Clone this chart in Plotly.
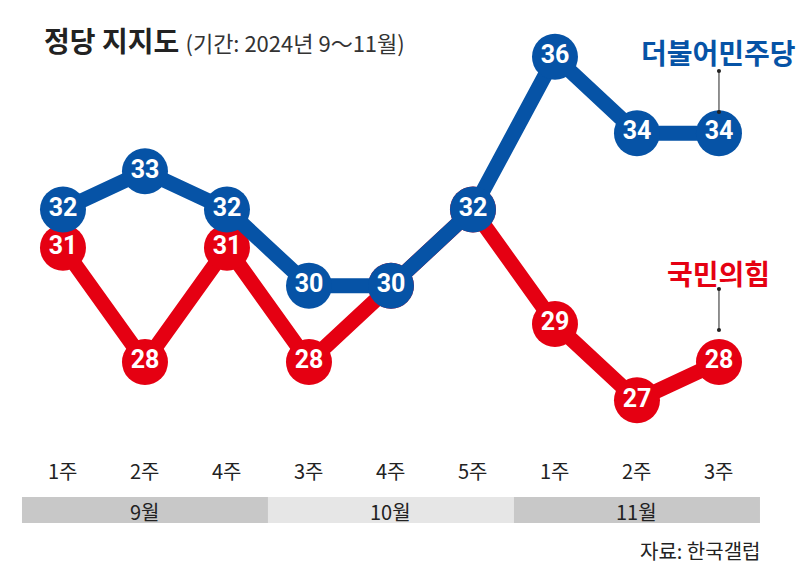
import plotly.graph_objects as go

weeks = ["1주", "2주", "4주", "3주", "4주", "5주", "1주", "2주", "3주"]
months = ["9월", "10월", "11월"]
month_spans = [(0, 2), (3, 5), (6, 8)]
dem = [32, 33, 32, 30, 30, 32, 36, 34, 34]
ppp = [31, 28, 31, 28, 30, 32, 29, 27, 28]
xs = list(range(len(weeks)))

BLUE = "#0653a6"
RED = "#e50012"
NUMFONT = "Roboto, Noto Sans CJK KR"
KFONT = "Noto Sans CJK KR"

fig = go.Figure()
for vals, col in [(ppp, RED), (dem, BLUE)]:
    fig.add_trace(go.Scatter(
        x=xs, y=vals, mode="lines+markers+text",
        line=dict(color=col, width=15),
        marker=dict(size=46, color=col, line=dict(width=0)),
        text=[str(v) for v in vals], textposition="middle center",
        textfont=dict(family=NUMFONT, size=25, color="white", weight="bold"),
        hoverinfo="skip", showlegend=False, cliponaxis=False))

# month bands
band_cols = ["#c8c8c8", "#e6e6e6", "#c8c8c8"]
for (a, b), m, c in zip(month_spans, months, band_cols):
    fig.add_shape(type="rect", xref="x", yref="paper", x0=a - 0.5, x1=b + 0.5,
                  y0=1 - 523 / 567, y1=1 - 497 / 567, fillcolor=c, line=dict(width=0), layer="below")
    fig.add_annotation(x=(a + b) / 2, xref="x", y=1 - 511 / 567, yref="paper", yanchor="middle",
                       text=m, showarrow=False, font=dict(family=KFONT, size=20, color="#222"))

for x, w in zip(xs, weeks):
    fig.add_annotation(x=x, xref="x", y=1 - 470 / 567, yref="paper", yanchor="middle", text=w,
                       showarrow=False, font=dict(family=KFONT, size=20, color="#222"))

# title
fig.add_annotation(x=42 / 800, xref="paper", y=1 - 40 / 567, yref="paper", xanchor="left", yanchor="middle",
                   text="<b>정당 지지도</b> <span style='font-size:22px;color:#333'>(기간: 2024년 9～11월)</span>",
                   showarrow=False, font=dict(family=KFONT, size=28, color="#222"))

# source
fig.add_annotation(x=762 / 800, xref="paper", y=1 - 550 / 567, yref="paper", xanchor="right", yanchor="middle",
                   text="자료: 한국갤럽", showarrow=False, font=dict(family=KFONT, size=20, color="#222"))

# series labels
fig.add_annotation(x=xs[-1], xref="x", y=1 - 52 / 567, yref="paper", xanchor="center", yanchor="middle",
                   text="<b>더불어민주당</b>", showarrow=False, font=dict(family=KFONT, size=28, color=BLUE))
fig.add_annotation(x=xs[-1], xref="x", y=1 - 273 / 567, yref="paper", xanchor="center", yanchor="middle",
                   text="<b>국민의힘</b>", showarrow=False, font=dict(family=KFONT, size=28, color=RED))

for y0, y1 in [(71, 112), (289, 330)]:
    fig.add_shape(type="line", xref="x", yref="paper", x0=xs[-1], x1=xs[-1],
                  y0=1 - y0 / 567, y1=1 - y1 / 567, line=dict(color="#222", width=1))
    for yy in (y0, y1):
        fig.add_shape(type="circle", xref="x", yref="paper",
                      x0=xs[-1] - 0.025, x1=xs[-1] + 0.025,
                      y0=1 - (yy + 2) / 567, y1=1 - (yy - 2) / 567,
                      fillcolor="#222", line=dict(width=0))

fig.update_layout(
    width=800, height=567, margin=dict(l=0, r=0, t=0, b=0),
    paper_bgcolor="white", plot_bgcolor="white",
    xaxis=dict(range=[-0.768, 8.988], visible=False, fixedrange=True),
    yaxis=dict(range=[22.63, 37.49], visible=False, fixedrange=True),
)
fig.write_html("out.html", config={"displayModeBar": False},
               post_script="document.body.style.margin='0';")
